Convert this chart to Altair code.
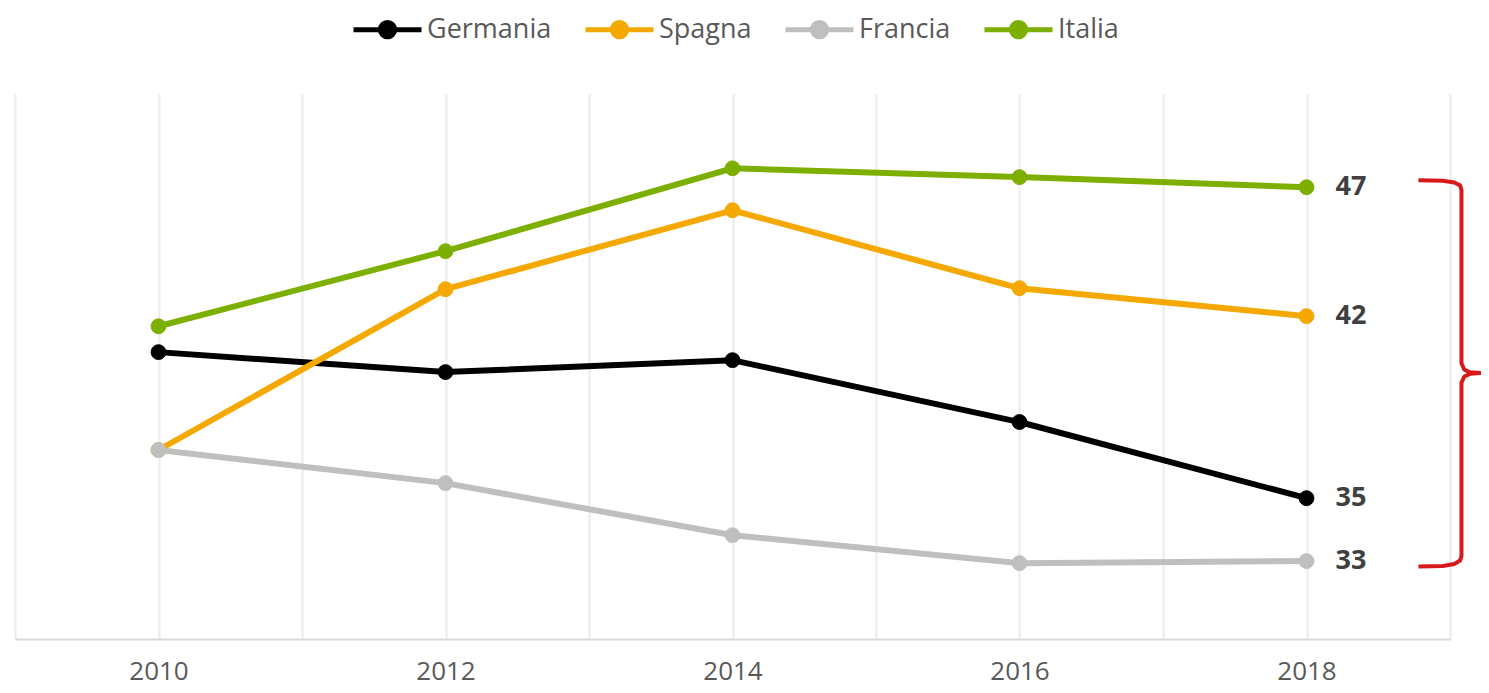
import altair as alt
import pandas as pd

years = [2010, 2012, 2014, 2016, 2018]
series = ["Germania", "Spagna", "Francia", "Italia"]
colors = ["#000000", "#F5A800", "#BFBFBF", "#7CAF00"]
germania = [40.63, 39.86, 40.32, 37.93, 34.99]
spagna = [36.85, 43.06, 46.11, 43.10, 42.02]
francia = [36.85, 35.57, 33.56, 32.48, 32.56]
italia = [41.63, 44.53, 47.73, 47.39, 47.00]
end_labels = ["35", "42", "33", "47"]

# curly brace annotation (data coordinates)
brace_x = [2018.78, 2018.95, 2019.03, 2019.07, 2019.08, 2019.08, 2019.10, 2019.14, 2019.21,
           2019.14, 2019.10, 2019.08, 2019.08, 2019.07, 2019.03, 2018.95, 2018.78]
brace_y = [47.27, 47.25, 47.18, 47.07, 46.90, 40.20, 39.95, 39.85, 39.82,
           39.79, 39.69, 39.45, 32.75, 32.58, 32.45, 32.37, 32.35]

vals = [germania, spagna, francia, italia]
rows = []
for s, v in zip(series, vals):
    for y, val in zip(years, v):
        rows.append({"anno": y, "valore": val, "paese": s})
df = pd.DataFrame(rows)

lab_df = pd.DataFrame({
    "anno": [years[-1]] * 4,
    "valore": [v[-1] for v in vals],
    "testo": end_labels,
})

brace_df = pd.DataFrame({"x": brace_x, "y": brace_y, "o": list(range(len(brace_x)))})

FONT = "Open Sans"
x_scale = alt.Scale(domain=[2009, 2019], nice=False, zero=False)
y_scale = alt.Scale(domain=[29.55, 50.6], nice=False, zero=False)

legend = alt.Legend(
    title=None,
    orient="none",
    direction="horizontal",
    legendX=336,
    legendY=-101,
    padding=0,
    symbolType="M-1,0H1M-0.21,0A0.21,0.21,0,1,1,0.21,0A0.21,0.21,0,1,1,-0.21,0",
    symbolSize=4624,
    symbolStrokeWidth=5,
    symbolOpacity=1,
    labelFont=FONT,
    labelFontSize=27,
    labelColor="#595959",
    labelOffset=3,
    columnPadding=23,
)
stroke = alt.Stroke("paese:N", scale=alt.Scale(domain=series, range=colors), legend=legend)
fill = alt.Fill("paese:N", scale=alt.Scale(domain=series, range=colors), legend=legend)

x_enc = alt.X(
    "anno:Q",
    scale=x_scale,
    axis=alt.Axis(
        title=None,
        values=list(range(2009, 2020)),
        format="d",
        labelExpr="datum.value % 2 == 0 ? datum.label : ''",
        grid=True,
        gridColor="#EBEBEB",
        gridWidth=2,
        ticks=False,
        domainColor="#D9D9D9",
        domainWidth=2,
        labelFont=FONT,
        labelFontSize=26,
        labelColor="#595959",
        labelPadding=19,
    ),
)
y_enc = alt.Y("valore:Q", scale=y_scale, axis=None)

base = alt.Chart(df)
lines = base.mark_line(strokeWidth=6).encode(x=x_enc, y=y_enc, stroke=stroke)
points = base.mark_point(filled=False, size=220, opacity=1, strokeWidth=1).encode(
    x=x_enc, y=y_enc, stroke=stroke, fill=fill
)

labels = alt.Chart(lab_df).mark_text(
    align="left", baseline="middle", dx=29, font=FONT, fontSize=27,
    fontWeight="bold", color="#404040"
).encode(x=alt.X("anno:Q", scale=x_scale), y=alt.Y("valore:Q", scale=y_scale), text="testo:N")

brace = alt.Chart(brace_df).mark_line(
    color="#D7191C", strokeWidth=4, strokeJoin="round", strokeCap="butt", clip=False
).encode(
    x=alt.X("x:Q", scale=x_scale),
    y=alt.Y("y:Q", scale=y_scale),
    order="o:Q",
)

chart = alt.layer(lines, points, labels, brace).properties(
    width=1435,
    height=545,
    autosize=alt.AutoSizeParams(type="none"),
    padding={"left": 7, "top": 86, "right": 31, "bottom": 54},
).configure_view(strokeWidth=0)

chart.save("out.html", embed_options={"renderer": "svg", "actions": False})
